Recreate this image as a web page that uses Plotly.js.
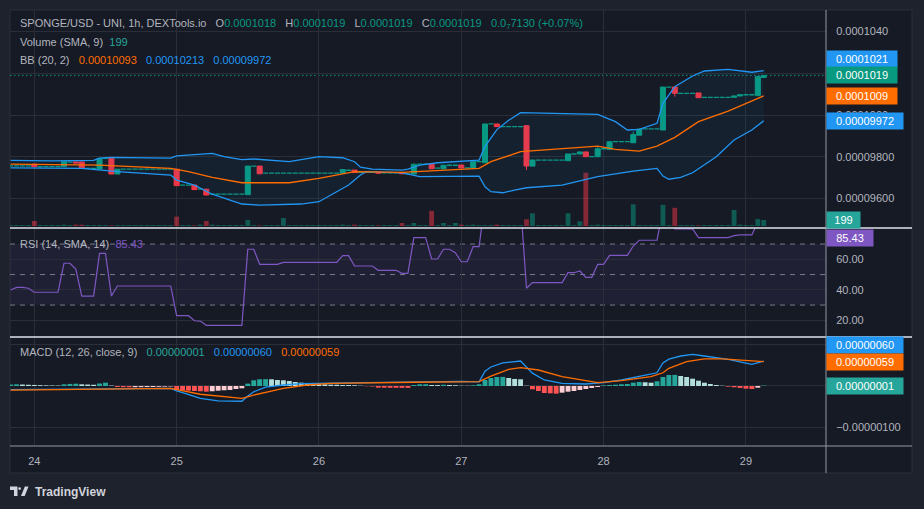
<!DOCTYPE html>
<html><head><meta charset="utf-8">
<script src="https://cdn.plot.ly/plotly-3.0.1.min.js"></script>
<style>html,body{margin:0;padding:0;background:#1e222d;}#chart{width:924px;height:509px;}</style>
</head><body><div id="chart"></div>
<script>
// ================= DATA =================
// x = hours since day 24, 00:00 (1h candles). Prices in units of 1e-7 USD.
const FIRST_HOUR = -4;
const dayTickHours = [0, 24, 48, 72, 96, 120];
const dayTickLabels = ['24', '25', '26', '27', '28', '29'];

const closes = [
  975.6, 975.6, 975.6, 975.6, 975.2, 975.2, 975.2, 975.2, 975.2, 977.6,   // h -4..5
  977.4, 977.0, 974.4, 974.4, 974.4, 979.2, 979.2, 971.7, 974.0, 974.0,   // h 6..15
  974.0, 974.0, 974.0, 974.0, 974.0, 974.0, 974.0, 974.0, 966.1, 966.4,   // h 16..25
  966.4, 964.2, 964.4, 961.6, 962.0, 962.0, 962.0, 962.0, 962.0, 962.0,   // h 26..35
  975.5, 975.5, 971.8, 972.1, 972.1, 972.1, 972.1, 972.1, 972.1, 972.1,   // h 36..45
  972.1, 972.1, 972.1, 972.1, 972.1, 972.1, 973.8, 973.5, 972.4, 972.5,   // h 46..55
  972.5, 972.5, 972.1, 972.2, 972.2, 972.2, 971.8, 971.8, 976.4, 976.4,   // h 56..65
  976.4, 974.2, 974.5, 975.9, 975.9, 975.9, 974.6, 974.6, 977.6, 977.6,   // h 66..75
  995.7, 995.7, 994.4, 994.4, 994.4, 994.4, 994.4, 975.5, 978.4, 978.4,   // h 76..85
  978.4, 978.4, 978.4, 978.4, 981.3, 981.3, 982.3, 980.0, 980.0, 983.8,   // h 86..95
  983.8, 987.2, 987.2, 987.2, 987.2, 990.6, 993.3, 993.3, 993.3, 993.3,   // h 96..105
  1013.4, 1013.4, 1010.4, 1010.4, 1010.4, 1010.4, 1008.3, 1008.5, 1008.5, 1008.5, // h 106..115
  1008.5, 1008.5, 1009.1, 1009.7, 1009.7, 1009.7, 1018.4, 1019.0          // h 116..123
];
// null = no trade that hour (open = close)
const opens = [
  null, null, null, null, 976.4, null, null, null, null, 975.2,
  null, 977.5, 977.5, null, null, 974.1, null, 979.2, 971.7, null,
  null, null, null, null, null, null, null, null, 974.0, null,
  null, 966.4, null, 964.4, null, null, null, null, null, null,
  961.8, null, 975.5, null, null, null, null, null, null, null,
  null, null, null, null, null, null, 972.1, null, 973.6, null,
  null, null, 972.7, null, null, null, 972.4, null, 971.7, null,
  null, 976.4, null, 974.2, null, null, 976.0, null, 974.6, null,
  977.1, null, 995.7, null, null, null, null, 994.9, 975.5, null,
  null, null, null, null, 978.1, null, 981.3, 982.3, null, 980.0,
  null, 983.5, null, null, null, 986.7, 990.3, null, null, null,
  992.8, null, 1013.4, null, null, null, 1010.6, null, null, null,
  null, null, 1008.5, 1009.1, null, null, 1009.3, 1018.0
];
const wickHiHours = [95, 101];
const wickHi = [985.1, 992.0];
const wickLoHours = [83, 108];
const wickLo = [973.6, 1008.8];

const volumes = [
  30, 30, 30, 30, 165, 30, 30, 30, 30, 45,
  30, 45, 45, 30, 30, 30, 30, 20, 30, 30,
  30, 30, 30, 30, 30, 30, 30, 30, 310, 30,
  30, 20, 45, 165, 45, 30, 30, 30, 30, 30,
  200, 30, 20, 30, 30, 30, 265, 30, 30, 30,
  30, 30, 30, 30, 30, 30, 45, 30, 45, 30,
  30, 30, 20, 30, 30, 30, 100, 30, 100, 30,
  30, 500, 30, 100, 30, 100, 45, 30, 45, 30,
  30, 30, 45, 30, 30, 30, 30, 220, 420, 30,
  30, 30, 30, 30, 420, 30, 155, 1760, 30, 45,
  30, 30, 30, 30, 30, 715, 30, 30, 30, 30,
  700, 30, 600, 30, 30, 30, 20, 30, 30, 30,
  30, 30, 530, 45, 30, 30, 230, 199
];

// Bollinger Bands (20, 2)
const bbUpperHours = [-4, 3, 10, 11, 13, 23, 24, 30, 32, 35, 37, 43, 48, 52, 54, 55, 57, 62, 63, 65, 68, 75, 76, 78, 80, 82, 95, 98, 100, 102, 105, 106, 108, 111, 113, 117, 121, 123];
const bbUpper = [978.2, 978.0, 978.2, 979.3, 979.7, 979.3, 980.4, 981.6, 980.0, 978.6, 978.9, 977.6, 980.0, 979.5, 977.6, 975.0, 974.0, 973.6, 974.0, 976.0, 977.1, 978.4, 985.0, 993.0, 997.5, 1001.1, 1000.3, 996.8, 992.8, 993.1, 996.0, 1005.6, 1013.6, 1018.7, 1021.1, 1021.9, 1020.5, 1021.3];
const bbMidHours = [-4, 11, 23, 26, 30, 35, 43, 48, 54, 62, 75, 77, 82, 95, 98, 102, 105, 108, 112, 117, 123];
const bbMid = [976.4, 976.0, 974.4, 972.8, 970.1, 967.5, 967.5, 969.6, 972.8, 972.5, 974.4, 977.6, 982.4, 985.1, 983.5, 982.7, 985.1, 989.3, 996.8, 1001.9, 1009.2];
const bbLowerHours = [-4, 3, 8, 14, 23, 24, 27, 30, 35, 38, 45, 48, 50, 53, 55, 56, 62, 63, 65, 75, 76, 77, 79, 81, 83, 89, 95, 101, 105, 106, 107, 109, 111, 115, 118, 121, 123];
const bbLower = [974.6, 974.4, 974.4, 972.8, 971.2, 968.8, 966.4, 962.0, 957.3, 956.8, 957.3, 958.4, 961.6, 966.4, 971.2, 972.8, 972.2, 971.7, 970.4, 970.7, 965.6, 963.2, 962.7, 964.0, 965.1, 966.4, 970.4, 973.1, 974.4, 970.7, 969.2, 970.1, 972.3, 980.0, 988.0, 992.8, 997.2];

// RSI (14)
const rsiHours = [-4, -3, -2, -1, 0, 4, 5, 6, 7, 8, 10, 11, 12, 13, 14, 23, 24, 26, 27, 28, 29, 35, 36, 37, 38, 41, 42, 51, 52, 53, 54, 57, 58, 61, 62, 63, 64, 66, 67, 68, 69, 70, 71, 72, 73, 74, 75, 76, 82, 83, 84, 89, 90, 91, 92, 93, 94, 95, 96, 97, 100, 101, 102, 105, 106, 107, 108, 111, 112, 117, 118, 119, 121, 122, 123];
const rsiValues = [39.9, 41.6, 41.6, 41.0, 38.4, 38.4, 57.4, 57.4, 53.6, 35.9, 35.9, 63.9, 63.9, 35.9, 42.5, 42.5, 23.0, 23.0, 19.7, 19.5, 16.7, 16.7, 66.6, 66.6, 56.7, 56.7, 58.0, 58.0, 62.4, 62.4, 55.6, 55.6, 52.8, 52.8, 50.8, 50.8, 74.2, 74.2, 60.2, 60.2, 66.6, 66.6, 64.3, 58.4, 58.4, 68.3, 68.3, 98, 96, 41.0, 44.7, 44.7, 51.2, 51.2, 52.3, 48.2, 48.2, 56.7, 56.7, 62.6, 62.6, 68.7, 72.5, 72.5, 92, 92, 79.9, 79.9, 74.2, 74.2, 75.5, 76.0, 76.0, 84.5, 85.43];

// MACD (12, 26, close, 9) in units of 1e-8
const macdHours = [-4, 23, 24, 25, 28, 31, 35, 36, 37, 39, 42, 45, 50, 64, 72, 75, 76, 77, 79, 82, 83, 84, 86, 89, 93, 96, 99, 102, 104, 105, 106, 107, 109, 111, 113, 117, 121, 123];
const macdValues = [-9, -6, -12, -16, -30, -36, -37, -24, -14, -3, 2.4, 5.6, 7, 10, 11, 10, 36, 46, 56, 60.5, 45, 31, 14.5, 6.5, 4.8, 8, 14.5, 22.6, 29.8, 32, 56, 65, 72.6, 76.7, 72.6, 64.6, 52.5, 60];
const signalHours = [-4, 23, 28, 35, 37, 42, 46, 50, 64, 75, 77, 80, 82, 85, 89, 95, 99, 104, 106, 107, 110, 113, 116, 119, 123];
const signalValues = [-10, -6, -20, -30, -22, -6, 2.4, 6.5, 9, 10.4, 24, 40, 44.3, 38.7, 22.5, 8, 12.9, 22.5, 32, 42.8, 58.8, 65.4, 65.4, 63, 59];
const histValues = [
  3.5, 4, 3.5, 3, 2.5, 2, 1.5, 1.2, 1, 4,
  5, 5.5, 4, 3.5, 3, 6, 8, 1, -2.5, -3,
  -3.2, -3, -2.8, -2.6, -2.4, -2, -1.6, -1.2, -9.7, -10.4,
  -11.4, -12.1, -12.8, -13.8, -12.8, -11.4, -10.4, -9.7, -7.3, -5.6,
  5.6, 13.8, 16.2, 16.5, 16.2, 14.5, 13.8, 12.1, 9.7, 8,
  5.6, 4.4, 4.1, 4, 3.2, 3.1, 2.4, 2.3, 1.7, 0.7,
  -0.7, -1.2, -4.1, -4.2, -4.3, -4.4, -4.5, -4.6, 2.4, 4.1,
  4.2, 2.4, 2.3, 3.1, 2.4, 1.7, 0.7, 0.6, 1.7, 4.1,
  14.5, 19.4, 21.8, 22, 19.4, 17, 16.2, 0.7, -8, -12.1,
  -17, -17.7, -18.6, -16.2, -13.8, -12.1, -9.7, -7.3, -4.8, -2.4,
  1.7, 2.4, 3.1, 4.1, 4.8, 8, 9.7, 9, 8, 11.4,
  21.8, 26.6, 26.8, 24.2, 21.8, 17.7, 12.8, 8, 4.8, 2.4,
  0.7, -1.7, -3.1, -4.8, -6.5, -7.3, -4.1, 1
];

// axis ticks
const priceTickVals = [960, 980, 1000, 1020, 1040];
const priceTickLabels = ['0.00009600', '0.00009800', '0.0001000', '0.0001020', '0.0001040'];
const rsiTickVals = [20, 40, 60];
const rsiTickLabels = ['20.00', '40.00', '60.00'];
const macdTickVals = [-100, 0, 100];
const macdTickLabels = ['\u22120.00000100', '0.00000000', '0.00000100'];

// legend texts
const symbolText = 'SPONGE/USD - UNI, 1h, DEXTools.io';
const ohlcText = ['0.0001018', '0.0001019', '0.0001019', '0.0001019'];
const changeText = '0.0<sub>7</sub>7130 (+0.07%)';
const volLegend = '199';
const bbLegend = ['0.00010093', '0.00010213', '0.00009972'];
const rsiLegend = '85.43';
const macdLegend = ['0.00000001', '0.00000060', '0.00000059'];

// ================= STYLE / BUILD =================
const FONT = 'Liberation Sans, Arial, sans-serif';
const UP = '#089981', DOWN = '#f23645', BLUE = '#2196f3', ORANGE = '#ff6d00', PURPLE = '#7e57c2';
const GREY = '#b2b5be', GRID = '#2a2e39', BG = '#161a25', OUTER = '#1e222d';
const PL = 10, PT = 10, PW = 816, PH = 436;
const px2x = px => (px - PL) / PW;
const px2y = py => (PT + PH - py) / PH;

const PRICE_RANGE = [945.8, 1050.36];
const VOL_RANGE = [-66, 7128];
const RSI_RANGE = [9.05, 80.52];
const MACD_RANGE = [-145.3, 118.6];

const hours = closes.map((_, i) => FIRST_HOUR + i);
const O = closes.map((c, i) => opens[i] === null ? c : opens[i]);
const H = closes.map((c, i) => Math.max(c, O[i]));
const L = closes.map((c, i) => Math.min(c, O[i]));
wickHiHours.forEach((h, k) => { H[h - FIRST_HOUR] = wickHi[k]; });
wickLoHours.forEach((h, k) => { L[h - FIRST_HOUR] = wickLo[k]; });
const idxAll = hours.map((_, i) => i);
const moveIdx = idxAll.filter(i => opens[i] !== null);
const flatIdx = idxAll.filter(i => opens[i] === null);
const pick = (arr, idx) => idx.map(i => arr[i]);

const volColors = idxAll.map(i => (opens[i] === null || closes[i] >= opens[i]) ? 'rgba(8,153,129,0.5)' : 'rgba(242,54,69,0.5)');
const histColors = histValues.map((v, i) => {
  const prev = i > 0 ? histValues[i - 1] : v;
  if (v >= 0) return v >= prev ? '#26a69a' : '#b2dfdb';
  return v <= prev ? '#ff5252' : '#ffcdd2';
});

const traces = [
  { type: 'bar', x: hours, y: volumes, xaxis: 'x', yaxis: 'y', width: 0.82,
    marker: { color: volColors, line: { width: 0 } }, hoverinfo: 'skip' },
  { type: 'scatter', mode: 'lines', x: bbUpperHours, y: bbUpper, xaxis: 'x', yaxis: 'y2',
    line: { color: BLUE, width: 1.3 }, hoverinfo: 'skip' },
  { type: 'scatter', mode: 'lines', x: bbLowerHours, y: bbLower, xaxis: 'x', yaxis: 'y2',
    line: { color: BLUE, width: 1.3 }, fill: 'tonexty', fillcolor: 'rgba(33,150,243,0.06)', hoverinfo: 'skip' },
  { type: 'scatter', mode: 'lines', x: bbMidHours, y: bbMid, xaxis: 'x', yaxis: 'y2',
    line: { color: ORANGE, width: 1.3 }, hoverinfo: 'skip' },
  { type: 'candlestick', x: pick(hours, flatIdx), open: pick(O, flatIdx), high: pick(H, flatIdx),
    low: pick(L, flatIdx), close: pick(closes, flatIdx), xaxis: 'x', yaxis: 'y2',
    increasing: { line: { color: UP, width: 1.3 }, fillcolor: UP },
    decreasing: { line: { color: UP, width: 1.3 }, fillcolor: UP }, hoverinfo: 'skip' },
  { type: 'candlestick', x: pick(hours, moveIdx), open: pick(O, moveIdx), high: pick(H, moveIdx),
    low: pick(L, moveIdx), close: pick(closes, moveIdx), xaxis: 'x', yaxis: 'y2',
    increasing: { line: { color: UP, width: 1 }, fillcolor: UP },
    decreasing: { line: { color: DOWN, width: 1 }, fillcolor: DOWN }, hoverinfo: 'skip' },
  { type: 'scatter', mode: 'lines', x: rsiHours, y: rsiValues, xaxis: 'x', yaxis: 'y3',
    line: { color: PURPLE, width: 1.2 }, hoverinfo: 'skip' },
  { type: 'bar', x: hours, y: histValues, xaxis: 'x', yaxis: 'y4', width: 0.82,
    marker: { color: histColors, line: { width: 0 } }, hoverinfo: 'skip' },
  { type: 'scatter', mode: 'lines', x: macdHours, y: macdValues, xaxis: 'x', yaxis: 'y4',
    line: { color: BLUE, width: 1.3 }, hoverinfo: 'skip' },
  { type: 'scatter', mode: 'lines', x: signalHours, y: signalValues, xaxis: 'x', yaxis: 'y4',
    line: { color: ORANGE, width: 1.3 }, hoverinfo: 'skip' }
];

const axisY = (extra) => Object.assign({
  side: 'right', anchor: 'x', showline: false, zeroline: false, showgrid: true, gridcolor: GRID, gridwidth: 1,
  ticks: 'outside', ticklen: 7, tickcolor: 'rgba(0,0,0,0)', tickfont: { family: FONT, size: 11, color: GREY },
  tickmode: 'array', fixedrange: true
}, extra);

const fmtPrice = v => (v * 1e-7).toFixed(v < 1000 ? 8 : 7);
const fmtMacd = v => (v * 1e-8).toFixed(8);
const last = a => a[a.length - 1];

function tag(txt, yref, y, bg, opts) {
  return Object.assign({
    xref: 'paper', x: 1, xanchor: 'left', yref: yref, y: y, yanchor: 'middle',
    text: txt, showarrow: false, bgcolor: bg, borderpad: 1.5,
    font: { family: FONT, size: 11, color: '#ffffff' },
    width: Math.round(txt.length * 6.1 + 12), height: 13, align: 'center'
  }, opts || {});
}
function legendRow(html, py) {
  return { xref: 'paper', x: 0, xshift: 8, xanchor: 'left', yref: 'paper', y: px2y(py), yanchor: 'middle',
    text: html, showarrow: false, align: 'left', font: { family: FONT, size: 11, color: GREY } };
}
const span = (c, t) => `<span style="color:${c}">${t}</span>`;
const SP = '\u00a0\u00a0\u00a0';

const rsiLast = last(rsiValues);
const annotations = [
  legendRow(symbolText + SP + 'O' + span(UP, ohlcText[0]) + SP + 'H' + span(UP, ohlcText[1]) + SP + 'L' + span(UP, ohlcText[2]) + SP + 'C' + span(UP, ohlcText[3]) + SP + span(UP, changeText), 24),
  legendRow('Volume (SMA, 9)\u00a0\u00a0' + span('#26a69a', volLegend), 42),
  legendRow('BB (20, 2)' + SP + span(ORANGE, bbLegend[0]) + SP + span(BLUE, bbLegend[1]) + SP + span(BLUE, bbLegend[2]), 60),
  legendRow('RSI (14, SMA, 14)\u00a0\u00a0' + span(PURPLE, rsiLegend), 244),
  legendRow('MACD (12, 26, close, 9)' + SP + span('#26a69a', macdLegend[0]) + SP + span(BLUE, macdLegend[1]) + SP + span(ORANGE, macdLegend[2]), 352),
  // price-scale tags
  tag(fmtPrice(last(bbUpper)), 'y2', last(bbUpper), BLUE, { yshift: 12 }),
  tag(fmtPrice(last(closes)), 'y2', last(closes), UP),
  tag(fmtPrice(last(bbMid)), 'y2', last(bbMid), ORANGE),
  tag(fmtPrice(last(bbLower)), 'y2', last(bbLower), BLUE),
  tag(String(last(volumes)), 'y', last(volumes), '#26a69a'),
  tag(rsiLast.toFixed(2), 'y3', Math.min(rsiLast, RSI_RANGE[1]), PURPLE, { yanchor: rsiLast > RSI_RANGE[1] ? 'top' : 'middle', yshift: -1 }),
  tag(fmtMacd(last(macdValues)), 'y4', last(macdValues), BLUE, { yshift: 16 }),
  tag(fmtMacd(last(signalValues)), 'y4', last(signalValues), ORANGE),
  tag(fmtMacd(last(histValues)), 'y4', last(histValues), '#26a69a'),
  // TradingView brand
  { xref: 'paper', yref: 'paper', x: px2x(33), y: px2y(492), xanchor: 'left', yanchor: 'middle',
    text: '<b>TradingView</b>', showarrow: false, font: { family: FONT, size: 12, color: '#d1d4dc' } }
];

const X1 = px2x(912);
const shapes = [
  { type: 'rect', xref: 'paper', yref: 'paper', x0: 0, x1: X1, y0: px2y(473), y1: 1, fillcolor: BG,
    line: { color: GRID, width: 1 }, layer: 'below' },
  { type: 'rect', xref: 'paper', yref: 'y3', x0: 0, x1: 1, y0: 30, y1: 70, fillcolor: 'rgba(126,87,194,0.1)',
    line: { width: 0 }, layer: 'below' },
  ...[70, 50, 30].map(v => ({ type: 'line', xref: 'paper', yref: 'y3', x0: 0, x1: 1, y0: v, y1: v,
    line: { color: '#787b86', width: 1, dash: '5px,5px' }, layer: 'below' })),
  { type: 'line', xref: 'paper', yref: 'y2', x0: 0, x1: 1, y0: last(closes), y1: last(closes),
    line: { color: UP, width: 1, dash: '1.5px,2.5px' }, layer: 'below' },
  ...[228, 337].map(py => ({ type: 'line', xref: 'paper', yref: 'paper', x0: 0, x1: X1, y0: px2y(py), y1: px2y(py),
    line: { color: '#e0e3eb', width: 1.5 } })),
  { type: 'line', xref: 'paper', yref: 'paper', x0: 0, x1: X1, y0: 0, y1: 0, line: { color: '#9598a1', width: 1 } },
  { type: 'line', xref: 'paper', yref: 'paper', x0: 1, x1: 1, y0: px2y(473), y1: 1, line: { color: '#9598a1', width: 1 } },
  // logo
  { type: 'path', xref: 'paper', yref: 'paper', fillcolor: '#d1d4dc', line: { width: 0 },
    path: `M ${px2x(10)},${px2y(486.5)} L ${px2x(17.5)},${px2y(486.5)} L ${px2x(17.5)},${px2y(496)} L ${px2x(14)},${px2y(496)} L ${px2x(14)},${px2y(490)} L ${px2x(10)},${px2y(490)} Z` },
  { type: 'circle', xref: 'paper', yref: 'paper', fillcolor: '#d1d4dc', line: { width: 0 },
    x0: px2x(18.3), x1: px2x(21), y0: px2y(490), y1: px2y(487.2) },
  { type: 'path', xref: 'paper', yref: 'paper', fillcolor: '#d1d4dc', line: { width: 0 },
    path: `M ${px2x(21)},${px2y(496)} L ${px2x(24.8)},${px2y(486.5)} L ${px2x(28.5)},${px2y(486.5)} L ${px2x(24.7)},${px2y(496)} Z` }
];

const layout = {
  width: 924, height: 509,
  margin: { l: PL, r: 924 - PL - PW, t: PT, b: 509 - PT - PH, pad: 0 },
  paper_bgcolor: OUTER, plot_bgcolor: BG,
  showlegend: false, hovermode: false,
  font: { family: FONT, size: 11, color: GREY },
  boxgap: 0.15, boxgroupgap: 0, boxmode: 'overlay', barmode: 'overlay',
  xaxis: { range: [-4.1, 133.5], anchor: 'y4', tickmode: 'array', tickvals: dayTickHours, ticktext: dayTickLabels,
    showgrid: true, gridcolor: GRID, zeroline: false, showline: false, ticks: 'outside', ticklen: 5,
    tickcolor: 'rgba(0,0,0,0)', tickfont: { family: FONT, size: 11, color: GREY },
    rangeslider: { visible: false }, fixedrange: true },
  yaxis: { domain: [0.5, 1], range: VOL_RANGE, visible: false, showgrid: false, zeroline: false, fixedrange: true },
  yaxis2: axisY({ overlaying: 'y', range: PRICE_RANGE, tickvals: priceTickVals, ticktext: priceTickLabels }),
  yaxis3: axisY({ domain: [0.25, 0.5], range: RSI_RANGE, tickvals: rsiTickVals, ticktext: rsiTickLabels }),
  yaxis4: axisY({ domain: [0, 0.25], range: MACD_RANGE, tickvals: macdTickVals, ticktext: macdTickLabels }),
  annotations: annotations,
  shapes: shapes
};

Plotly.newPlot('chart', traces, layout, { staticPlot: true, displayModeBar: false });
</script>
</body></html>
